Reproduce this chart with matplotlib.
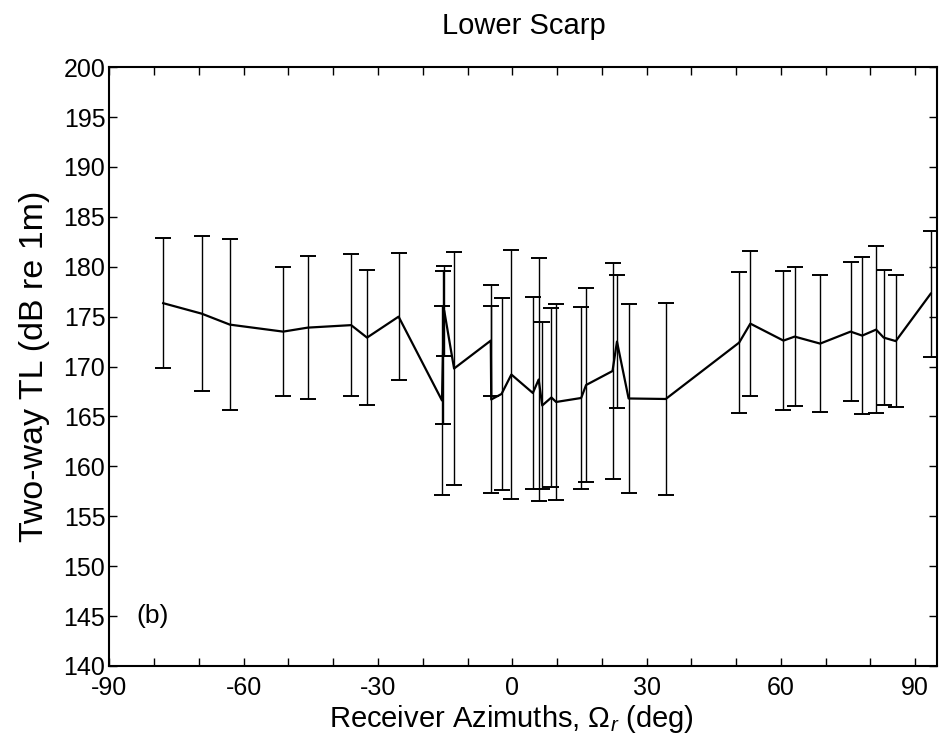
import matplotlib
matplotlib.use("Agg")
import matplotlib.pyplot as plt
import numpy as np

plt.rcParams['font.family'] = ['Liberation Sans', 'DejaVu Sans']
plt.rcParams['mathtext.fontset'] = 'custom'
plt.rcParams['mathtext.rm'] = 'Liberation Sans'
plt.rcParams['mathtext.it'] = 'Liberation Sans:italic'

# receiver azimuth (deg), mean two-way TL (dB) and error half-width (dB)
azimuth = [-78.0, -69.4, -63.1, -51.2, -45.7, -36.0, -32.45, -25.4,
           -15.7, -15.45, -15.2, -13.0, -4.8, -4.7, -2.4, -0.2,
           4.6, 5.9, 6.7, 8.75, 9.8, 15.4, 16.5, 22.4, 23.4, 26.0, 34.3,
           50.7, 53.2, 60.6, 63.1, 68.8, 75.6, 78.2, 81.3, 83.0, 85.7, 93.5]
tl = [176.35, 175.3, 174.2, 173.5, 173.9, 174.15, 172.9, 175.0,
      166.6, 171.9, 175.6, 169.8, 172.6, 166.7, 167.25, 169.2,
      167.35, 168.7, 166.1, 166.9, 166.45, 166.85, 168.15, 169.55, 172.5, 166.8, 166.75,
      172.4, 174.3, 172.6, 173.0, 172.3, 173.5, 173.1, 173.7, 172.9, 172.55, 177.3]
err = [6.5, 7.8, 8.6, 6.5, 7.2, 7.1, 6.8, 6.35,
       9.5, 7.7, 4.5, 11.7, 5.6, 9.4, 9.6, 12.5,
       9.6, 12.2, 8.4, 9.0, 9.85, 9.15, 9.75, 10.85, 6.7, 9.5, 9.6,
       7.1, 7.3, 7.0, 7.0, 6.9, 7.0, 7.9, 8.4, 6.8, 6.65, 6.3]

xticks = np.arange(-90, 91, 10)
xlabels = [str(v) if v % 30 == 0 else '' for v in xticks]

fig = plt.figure(figsize=(9.39, 7.42), dpi=100)
ax = fig.add_axes([0.1166, 0.1025, 0.8817, 0.807])

ax.errorbar(azimuth, tl, yerr=err, color='black', linewidth=1.6,
            elinewidth=1.0, capsize=5.5, capthick=1.4)

ax.set_xlim(-90, 95)
ax.set_ylim(140, 200)
ax.set_xticks(xticks)
ax.set_xticklabels(xlabels)
ax.set_yticks(np.arange(140, 201, 5))
ax.tick_params(direction='in', top=True, right=True, length=5.5, width=1.0,
               labelsize=18)
ax.tick_params(axis='x', pad=7)
ax.tick_params(axis='y', pad=3)
for s in ax.spines.values():
    s.set_linewidth(1.5)

ax.set_title('Lower Scarp', fontsize=21, pad=24)
ax.set_xlabel(r'Receiver Azimuths, $\Omega_r$ (deg)', fontsize=21, labelpad=0)
ax.xaxis.set_label_coords(0.485, -0.062)
ax.set_ylabel('Two-way TL (dB re 1m)', fontsize=24.5, labelpad=10)
ax.text(-84, 145, '(b)', fontsize=19, va='center', ha='left')

fig.savefig('out.png', dpi=100)
